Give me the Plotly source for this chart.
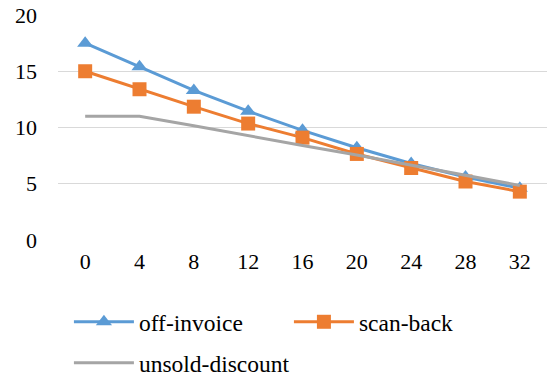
import plotly.graph_objects as go

weeks = [0, 4, 8, 12, 16, 20, 24, 28, 32]
off_invoice = [17.5, 15.4, 13.3, 11.45, 9.75, 8.2, 6.8, 5.6, 4.6]
scan_back = [15.0, 13.4, 11.85, 10.35, 9.1, 7.65, 6.4, 5.2, 4.3]
unsold_discount = [11.0, 11.0, 10.15, 9.25, 8.4, 7.55, 6.65, 5.75, 4.85]
y_ticks = [0, 5, 10, 15, 20]

FONT = "Liberation Serif"
font = dict(family=FONT, size=22, color="#000000")
legend_font = dict(family=FONT, size=23.5, color="#000000")

fig = go.Figure()
fig.add_trace(go.Scatter(
    x=weeks, y=off_invoice, name="off-invoice", mode="lines+markers",
    line=dict(color="#5B9BD5", width=3),
    marker=dict(symbol="triangle-up", size=14, color="#5B9BD5"),
    legend="legend",
))
fig.add_trace(go.Scatter(
    x=weeks, y=scan_back, name="scan-back", mode="lines+markers",
    line=dict(color="#ED7D31", width=3),
    marker=dict(symbol="square", size=14, color="#ED7D31"),
    legend="legend",
))
fig.add_trace(go.Scatter(
    x=weeks, y=unsold_discount, name="unsold-discount", mode="lines",
    line=dict(color="#A5A5A5", width=3),
    legend="legend2",
))

fig.update_layout(
    template="none",
    width=547, height=379,
    margin=dict(l=58, r=0, t=15, b=139, autoexpand=False),
    paper_bgcolor="white", plot_bgcolor="white",
    font=font,
    xaxis=dict(
        range=[-2, 34], tickvals=weeks, ticktext=[str(w) for w in weeks],
        showgrid=False, zeroline=False, showline=False, ticks="",
        ticklabelstandoff=6, tickfont=font,
    ),
    yaxis=dict(
        range=[0, 20], tickvals=y_ticks, showgrid=True, gridcolor="#D9D9D9",
        gridwidth=1.3, zeroline=False, showline=False, ticks="",
        ticklabelstandoff=20, tickfont=font,
    ),
    legend=dict(
        orientation="h", xref="container", yref="container",
        x=0.126, y=0.1504, xanchor="left", yanchor="middle",
        font=legend_font, itemwidth=60, entrywidth=145, bgcolor="rgba(0,0,0,0)",
    ),
    legend2=dict(
        orientation="h", xref="container", yref="container",
        x=0.126, y=0.0422, xanchor="left", yanchor="middle",
        font=legend_font, itemwidth=60, bgcolor="rgba(0,0,0,0)",
    ),
)

fig.write_html(
    "out.html",
    config={"displayModeBar": False},
    post_script="document.body.style.margin='0';document.body.style.padding='0';",
)
